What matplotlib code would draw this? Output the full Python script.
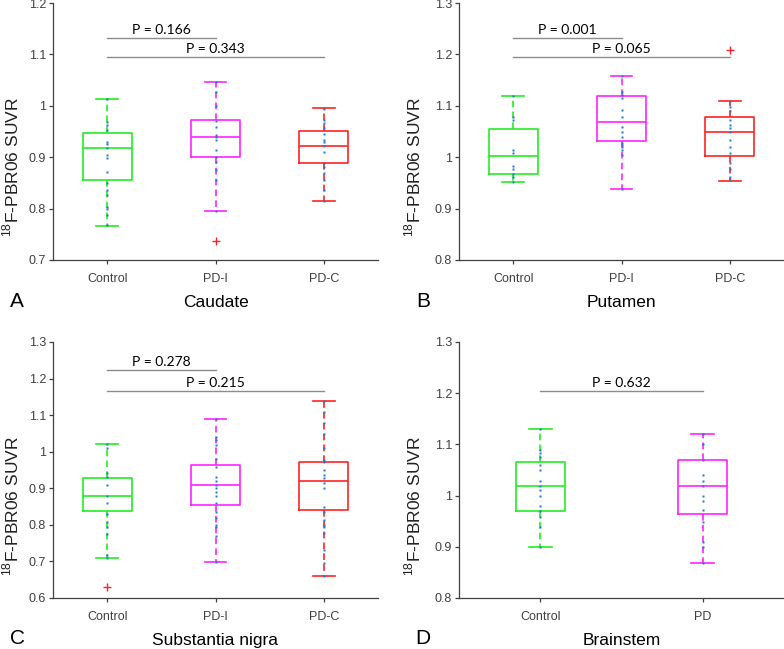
"""
Four-panel boxplot figure: 18F-PBR06 SUVR by region and group.
"""

import matplotlib

matplotlib.use("Agg")
import matplotlib.pyplot as plt
from matplotlib.ticker import FuncFormatter

plt.rcParams["font.family"] = ["Liberation Sans", "DejaVu Sans"]

# ---------------------------------------------------------------------------
# Data
# ---------------------------------------------------------------------------

GROUPS_3 = ["Control", "PD-I", "PD-C"]
GROUPS_2 = ["Control", "PD"]

# box summaries per group: (whisker low, Q1, median, Q3, whisker high)
CAUDATE_BOX = [
    (0.767, 0.855, 0.918, 0.948, 1.013),
    (0.795, 0.900, 0.940, 0.972, 1.047),
    (0.814, 0.889, 0.922, 0.951, 0.995),
]
CAUDATE_FLIERS = [[], [0.736], []]
CAUDATE_POINTS = [
    [1.013, 0.969, 0.963, 0.953, 0.930, 0.926, 0.917, 0.904, 0.898,
     0.872, 0.849, 0.836, 0.826, 0.804, 0.800, 0.788, 0.768],
    [1.047, 1.026, 1.000, 0.971, 0.958, 0.943, 0.940, 0.934, 0.914,
     0.900, 0.891, 0.875, 0.856, 0.795],
    [0.994, 0.972, 0.966, 0.956, 0.946, 0.934, 0.930, 0.922, 0.911,
     0.889, 0.881, 0.869, 0.856, 0.836, 0.814],
]
CAUDATE_P = [("P = 0.166", 1, 2, 1.1325), ("P = 0.343", 1, 3, 1.095)]

PUTAMEN_BOX = [
    (0.952, 0.967, 1.002, 1.055, 1.120),
    (0.939, 1.032, 1.068, 1.119, 1.158),
    (0.954, 1.002, 1.050, 1.078, 1.109),
]
PUTAMEN_FLIERS = [[], [], [1.208]]
PUTAMEN_POINTS = [
    [1.120, 1.079, 1.072, 1.014, 1.008, 0.982, 0.978, 0.968, 0.962, 0.952],
    [1.158, 1.127, 1.121, 1.115, 1.092, 1.079, 1.059, 1.050, 1.040,
     1.027, 1.024, 1.020, 1.014, 1.004, 0.939],
    [1.109, 1.098, 1.089, 1.072, 1.063, 1.056, 1.050, 1.033, 1.020,
     1.008, 0.988, 0.978, 0.962, 0.955],
]
PUTAMEN_P = [("P = 0.001", 1, 2, 1.2325), ("P = 0.065", 1, 3, 1.195)]

NIGRA_BOX = [
    (0.709, 0.838, 0.879, 0.929, 1.021),
    (0.699, 0.854, 0.909, 0.964, 1.089),
    (0.660, 0.841, 0.920, 0.973, 1.140),
]
NIGRA_FLIERS = [[0.629], [], []]
NIGRA_POINTS = [
    [1.021, 1.009, 0.941, 0.930, 0.909, 0.879, 0.859, 0.830, 0.809,
     0.795, 0.775, 0.718, 0.709],
    [1.089, 1.039, 1.032, 1.018, 0.979, 0.959, 0.930, 0.921, 0.909,
     0.900, 0.891, 0.879, 0.859, 0.836, 0.818, 0.800, 0.793, 0.770, 0.699],
    [1.140, 1.109, 1.078, 1.048, 1.009, 0.977, 0.973, 0.950, 0.936,
     0.927, 0.914, 0.900, 0.850, 0.836, 0.813, 0.800, 0.795, 0.779,
     0.731, 0.695, 0.660],
]
NIGRA_P = [("P = 0.278", 1, 2, 1.2226), ("P = 0.215", 1, 3, 1.166)]

BRAINSTEM_BOX = [
    (0.899, 0.970, 1.019, 1.066, 1.130),
    (0.869, 0.965, 1.019, 1.070, 1.120),
]
BRAINSTEM_FLIERS = [[], []]
BRAINSTEM_POINTS = [
    [1.130, 1.089, 1.083, 1.076, 1.060, 1.050, 1.029, 1.019, 1.010,
     0.999, 0.980, 0.969, 0.959, 0.939, 0.899],
    [1.120, 1.101, 1.070, 1.040, 1.029, 1.019, 0.999, 0.990, 0.971,
     0.949, 0.910, 0.900, 0.869],
]
BRAINSTEM_P = [("P = 0.632", 1, 2, 1.204)]

# ---------------------------------------------------------------------------
# Style
# ---------------------------------------------------------------------------

BOX_COLORS = ["#22ee22", "#ff22ff", "#ff2222"]
DOT_COLOR = "#1f78d0"
AXIS_COLOR = "#404040"
BAR_COLOR = "#8c8c8c"
YLABEL = r"$^{\mathregular{18}}$F-PBR06 SUVR"

FIG_W, FIG_H = 784, 649


def _rect(left, top, right, bottom):
    """Pixel box -> figure fraction [l, b, w, h]."""
    return [left / FIG_W, 1 - bottom / FIG_H, (right - left) / FIG_W,
            (bottom - top) / FIG_H]


def _draw_panel(fig, rect, groups, box, fliers, points, pvalues,
                yticks, title, letter, label_x, width, capwidth):
    ax = fig.add_axes(rect)
    positions = list(range(1, len(groups) + 1))

    stats = [
        dict(whislo=b[0], q1=b[1], med=b[2], q3=b[3], whishi=b[4], fliers=f)
        for b, f in zip(box, fliers)
    ]
    art = ax.bxp(
        stats,
        positions=positions,
        widths=width,
        capwidths=capwidth,
        showfliers=True,
        boxprops=dict(linewidth=1.2),
        medianprops=dict(linewidth=1.2),
        whiskerprops=dict(linewidth=1.2, linestyle=(0, (4, 2.5))),
        capprops=dict(linewidth=1.2),
        flierprops=dict(marker="+", markersize=6, markeredgecolor="#ff2222",
                        markeredgewidth=1.0),
    )
    for i, color in enumerate(BOX_COLORS[: len(groups)]):
        art["boxes"][i].set_color(color)
        art["medians"][i].set_color(color)
        for line in art["whiskers"][2 * i: 2 * i + 2] + art["caps"][2 * i: 2 * i + 2]:
            line.set_color(color)

    # individual subjects
    for pos, vals in zip(positions, points):
        ax.plot([pos] * len(vals), vals, ls="none", marker="s", ms=1.6,
                color=DOT_COLOR, mec="none", zorder=5)

    # significance bars
    for text, g1, g2, y in pvalues:
        ax.plot([g1, g2], [y, y], color=BAR_COLOR, lw=1.0)
        ax.annotate(text, xy=((g1 + g2) / 2, y), xytext=(0, 1.5),
                    textcoords="offset points", ha="center", va="bottom",
                    fontsize=10, family=["Lato", "DejaVu Sans"])

    ax.set_xlim(0.5, len(groups) + 0.5)
    ax.set_ylim(yticks[0], yticks[-1])
    ax.set_xticks(positions, groups)
    ax.set_yticks(yticks)
    ax.yaxis.set_major_formatter(FuncFormatter(lambda v, _: f"{round(v, 2):g}"))

    for side in ("top", "right"):
        ax.spines[side].set_visible(False)
    for side in ("left", "bottom"):
        ax.spines[side].set_color(AXIS_COLOR)
        ax.spines[side].set_linewidth(0.9)
    ax.tick_params(direction="out", length=3, width=0.9, colors=AXIS_COLOR,
                   labelsize=9)
    ax.tick_params(axis="x", pad=6)
    ax.tick_params(axis="y", pad=2)

    ax.set_ylabel(YLABEL, fontsize=12.5, color="#202020")
    ax.yaxis.set_label_coords(label_x, 0.36)

    ax.text(0.5, -0.165, title, transform=ax.transAxes, ha="center",
            va="center", fontsize=12.5, color="black")
    ax.text(-0.11, -0.16, letter, transform=ax.transAxes,
            ha="center", va="center", fontsize=15, color="black")
    return ax


fig = plt.figure(figsize=(FIG_W / 100, FIG_H / 100), dpi=100)

_draw_panel(fig, _rect(53, 3, 378, 260), GROUPS_3, CAUDATE_BOX,
            CAUDATE_FLIERS, CAUDATE_POINTS, CAUDATE_P,
            [0.7, 0.8, 0.9, 1.0, 1.1, 1.2], "Caudate", "A", -0.098, 0.45, 0.2)
_draw_panel(fig, _rect(459, 3, 784, 260), GROUPS_3, PUTAMEN_BOX,
            PUTAMEN_FLIERS, PUTAMEN_POINTS, PUTAMEN_P,
            [0.8, 0.9, 1.0, 1.1, 1.2, 1.3], "Putamen", "B", -0.11, 0.45, 0.2)
_draw_panel(fig, _rect(53, 342, 378, 598), GROUPS_3, NIGRA_BOX,
            NIGRA_FLIERS, NIGRA_POINTS, NIGRA_P,
            [0.6, 0.7, 0.8, 0.9, 1.0, 1.1, 1.2, 1.3], "Substantia nigra", "C",
            -0.098, 0.45, 0.2)
_draw_panel(fig, _rect(459, 342, 784, 598), GROUPS_2, BRAINSTEM_BOX,
            BRAINSTEM_FLIERS, BRAINSTEM_POINTS, BRAINSTEM_P,
            [0.8, 0.9, 1.0, 1.1, 1.2, 1.3], "Brainstem", "D", -0.11, 0.3, 0.14)

fig.savefig("out.png", dpi=100)
